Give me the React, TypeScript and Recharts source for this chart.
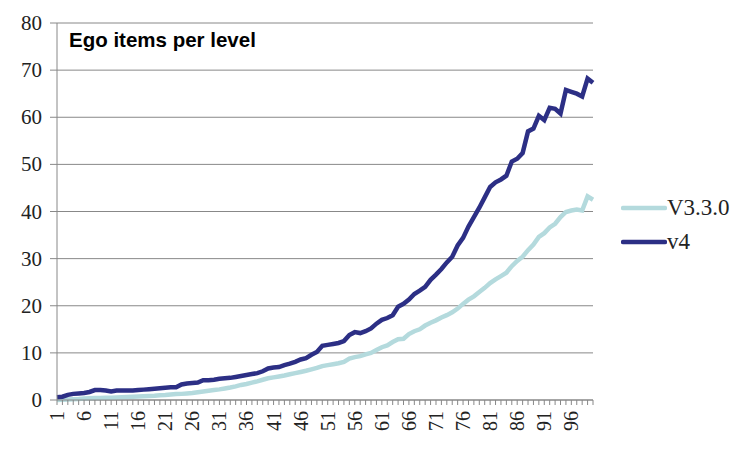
import React from 'react';
import { LineChart, Line, XAxis, YAxis, CartesianGrid } from 'recharts';

const LEVELS = Array.from({ length: 100 }, (_, i) => i + 1);

const V330 = [
  0.0, 0.05, 0.1, 0.15, 0.2, 0.3, 0.35, 0.4, 0.45, 0.5,
  0.5, 0.55, 0.6, 0.65, 0.7, 0.75, 0.8, 0.85, 0.9, 1.0,
  1.05, 1.15, 1.25, 1.3, 1.4, 1.5, 1.65, 1.8, 1.95, 2.1,
  2.25, 2.45, 2.65, 2.9, 3.2, 3.4, 3.7, 3.95, 4.3, 4.6,
  4.8, 5.0, 5.2, 5.45, 5.7, 5.95, 6.2, 6.5, 6.8, 7.2,
  7.4, 7.6, 7.8, 8.1, 8.8, 9.1, 9.3, 9.7, 10.0, 10.6,
  11.2, 11.6, 12.3, 12.9, 13.0, 14.0, 14.6, 15.0, 15.8, 16.4,
  16.9, 17.5, 18.0, 18.6, 19.4, 20.4, 21.3, 22.0, 22.9, 23.8,
  24.8, 25.6, 26.3, 27.0, 28.4, 29.5, 30.4, 31.8, 33.0, 34.6,
  35.4, 36.6, 37.4, 38.8, 39.9, 40.2, 40.4, 40.2, 43.2, 42.5,
];

const V4 = [
  0.6, 0.7, 1.1, 1.3, 1.4, 1.5, 1.7, 2.1, 2.1, 2.0,
  1.8, 2.0, 2.0, 2.0, 2.0, 2.1, 2.2, 2.3, 2.4, 2.5,
  2.6, 2.7, 2.7, 3.3, 3.5, 3.6, 3.7, 4.2, 4.2, 4.3,
  4.5, 4.6, 4.7, 4.9, 5.1, 5.3, 5.5, 5.7, 6.1, 6.7,
  6.9, 7.0, 7.4, 7.7, 8.1, 8.6, 8.9, 9.6, 10.2, 11.5,
  11.7, 11.9, 12.1, 12.5, 13.8, 14.4, 14.2, 14.6, 15.2, 16.2,
  17.0, 17.4, 18.0, 19.8, 20.4, 21.3, 22.5, 23.2, 24.0, 25.5,
  26.6, 27.8, 29.2, 30.4, 32.8, 34.4, 36.8, 38.8, 40.8, 43.0,
  45.2, 46.2, 46.8, 47.6, 50.6, 51.2, 52.4, 57.0, 57.6, 60.3,
  59.4, 62.0, 61.8, 60.8, 65.8, 65.4, 65.0, 64.4, 68.2, 67.3,
];

const Y_TICKS = [0, 10, 20, 30, 40, 50, 60, 70, 80];

const SERIES = [
  { key: 'v330', name: 'V3.3.0', color: '#b4dadd' },
  { key: 'v4', name: 'v4', color: '#2c2f85' },
];

const data = LEVELS.map((lvl, i) => ({ level: lvl, v330: V330[i], v4: V4[i] }));

const SERIF = 'Liberation Serif';

const LevelTick = (props: any) => {
  const { x, y, payload, index } = props;
  // y here sits a few px below the axis line
  return (
    <g>
      <line x1={x} y1={y - 8} x2={x} y2={y - 3} stroke="#888" strokeWidth={1} />
      {index % 5 === 0 && (
        <text
          x={x}
          y={y + 3}
          transform={`rotate(-90, ${x}, ${y + 3})`}
          textAnchor="end"
          dominantBaseline="central"
          style={{ fontFamily: SERIF, fontSize: 20, fill: '#222' }}
        >
          {payload.value}
        </text>
      )}
    </g>
  );
};

const ValueTick = (props: any) => {
  const { x, y, payload } = props;
  return (
    <text
      x={x}
      y={y}
      textAnchor="end"
      dominantBaseline="central"
      style={{ fontFamily: SERIF, fontSize: 21, fill: '#222' }}
    >
      {payload.value}
    </text>
  );
};

export default function App() {
  return (
    <div style={{ width: 752, height: 451, position: 'relative', background: '#fff' }}>
      <style>{`body{margin:0}`}</style>
      <LineChart width={752} height={451} data={data} margin={{ top: 23, right: 159, left: 7, bottom: 6 }}>
        <CartesianGrid vertical={false} stroke="#888" strokeWidth={1} />
        <XAxis
          dataKey="level"
          interval={0}
          tick={<LevelTick />}
          tickLine={false}
          axisLine={{ stroke: '#888' }}
          height={45}
        />
        <YAxis
          domain={[0, 80]}
          ticks={Y_TICKS}
          width={50}
          tickSize={7}
          tickMargin={8}
          tickLine={{ stroke: '#888' }}
          axisLine={{ stroke: '#888' }}
          tick={<ValueTick />}
        />
        {SERIES.map((s) => (
          <Line
            key={s.key}
            type="linear"
            dataKey={s.key}
            name={s.name}
            stroke={s.color}
            strokeWidth={4.5}
            dot={false}
            isAnimationActive={false}
          />
        ))}
      </LineChart>
      <div
        style={{
          position: 'absolute',
          left: 69,
          top: 28,
          fontFamily: 'Liberation Sans',
          fontWeight: 'bold',
          fontSize: 20.5,
          color: '#000',
        }}
      >
        Ego items per level
      </div>
      <div style={{ position: 'absolute', left: 621, top: 191, fontFamily: SERIF, fontSize: 23, color: '#222' }}>
        {SERIES.map((s) => (
          <div key={s.key} style={{ display: 'flex', alignItems: 'center', height: 34 }}>
            <svg width={46} height={8}>
              <line x1={2} y1={4} x2={44} y2={4} stroke={s.color} strokeWidth={4.5} strokeLinecap="round" />
            </svg>
            <span>{s.name}</span>
          </div>
        ))}
      </div>
    </div>
  );
}
